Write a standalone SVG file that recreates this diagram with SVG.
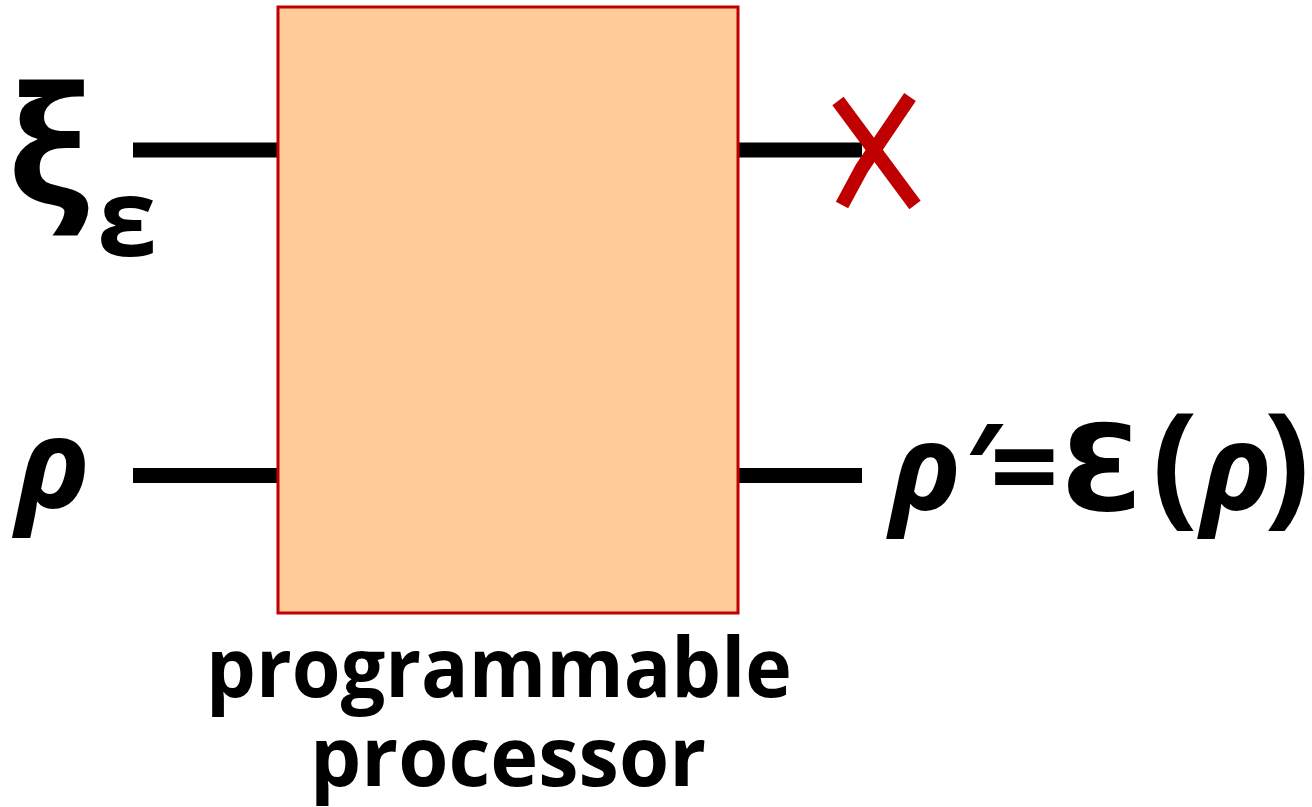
<svg xmlns="http://www.w3.org/2000/svg" width="1312" height="807" viewBox="0 0 1312 807">
<style>
.t{font-family:"Open Sans","DejaVu Sans",sans-serif;font-weight:bold;fill:#000}
.i{font-style:italic}
.w{stroke:#000;stroke-width:15;fill:none}
.x{stroke:#C00000;stroke-width:14;fill:none}
</style>
<rect width="1312" height="807" fill="#fff"/>
<g id="connectors">
<line class="w" x1="133" y1="150" x2="277" y2="150"/>
<line class="w" x1="739" y1="150" x2="862" y2="150"/>
<line class="w" x1="133" y1="475.5" x2="277" y2="475.5"/>
<line class="w" x1="739" y1="475.5" x2="862" y2="475.5"/>
</g>
<g id="processor">
<rect x="278" y="7" width="460" height="606" fill="#FFCC99" stroke="#C00000" stroke-width="3"/>
<text class="t" font-size="82" text-anchor="middle" x="499" y="697" textLength="586" lengthAdjust="spacingAndGlyphs">programmable</text>
<text class="t" font-size="82" text-anchor="middle" x="508" y="786" textLength="396" lengthAdjust="spacingAndGlyphs">processor</text>
</g>
<g id="input-program">
<text class="t" font-size="165" x="7" y="205">ξ</text>
<text class="t" font-size="108" x="97" y="256">ε</text>
</g>
<g id="input-state">
<text class="t i" font-size="125" x="16" y="508">ρ</text>
</g>
<g id="discard">
<path class="x" d="M838 101 L915 205"/>
<path class="x" d="M910 97 L862 168 L842 205"/>
</g>
<g id="output-state">
<text class="t" font-size="120" y="510"><tspan class="i" x="890">ρ</tspan><tspan class="i" x="962">′</tspan><tspan x="990">=</tspan><tspan x="1060">Ɛ</tspan><tspan x="1152" font-size="135">(</tspan><tspan class="i" x="1201">ρ</tspan><tspan x="1264" font-size="135">)</tspan></text>
</g>
</svg>
